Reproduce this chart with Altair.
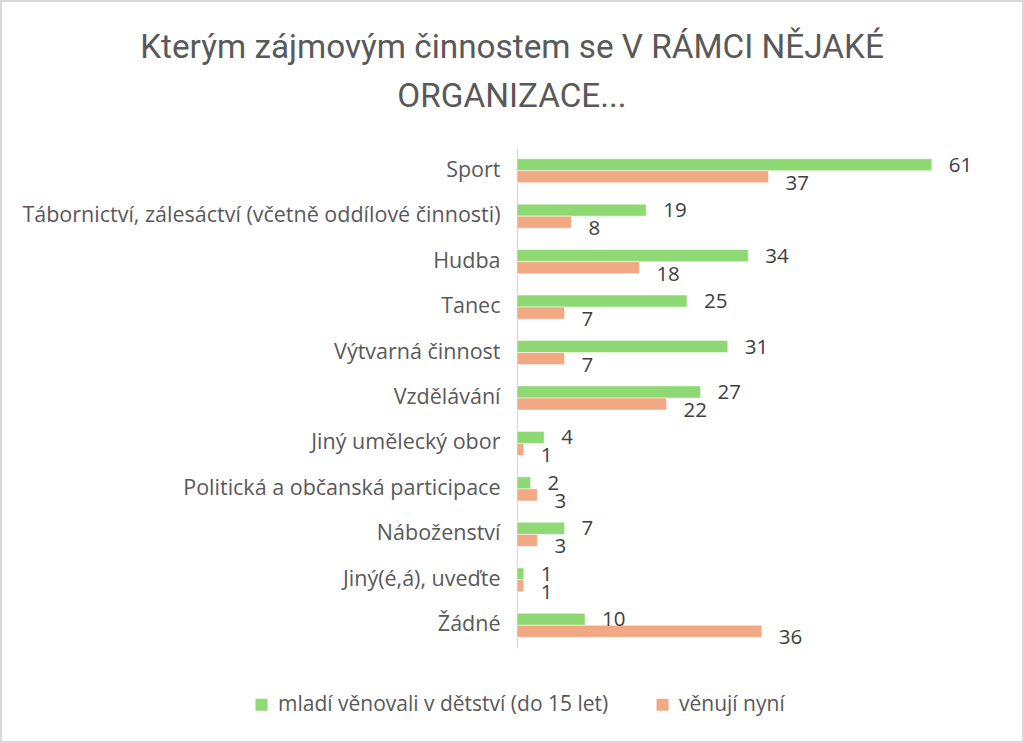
import altair as alt
import pandas as pd

categories = [
    "Sport",
    "Tábornictví, zálesáctví (včetně oddílové činnosti)",
    "Hudba",
    "Tanec",
    "Výtvarná činnost",
    "Vzdělávání",
    "Jiný umělecký obor",
    "Politická a občanská participace",
    "Náboženství",
    "Jiný(é,á), uveďte",
    "Žádné",
]
series_names = ["mladí věnovali  v dětství (do 15 let)", "věnují nyní"]
childhood = [61, 19, 34, 25, 31, 27, 4, 2, 7, 1, 10]
now = [37, 8, 18, 7, 7, 22, 1, 3, 3, 1, 36]
colors = ["#8ED973", "#F1A983"]
title_lines = ["Kterým zájmovým činnostem se V RÁMCI NĚJAKÉ", "ORGANIZACE..."]

rows = []
for c, a, b in zip(categories, childhood, now):
    rows.append({"cat": c, "series": series_names[0], "value": a})
    rows.append({"cat": c, "series": series_names[1], "value": b})
df = pd.DataFrame(rows)

FONT = "Open Sans"
W, H = 476, 500

y_enc = alt.Y("cat:N", sort=categories, title=None,
              scale=alt.Scale(paddingInner=0.47, paddingOuter=0.235),
              axis=alt.Axis(ticks=False, domainColor="#d9d9d9", domainWidth=1.3,
                            labelPadding=17, labelLimit=0, labelFontSize=21.5,
                            labelColor="#595959", labelFont=FONT, grid=False))
x_enc = alt.X("value:Q", scale=alt.Scale(domain=[0, 70]), axis=None, title=None)
yoff = alt.YOffset("series:N", sort=series_names)

bars = alt.Chart(df).mark_bar(stroke="white", strokeWidth=0.5).encode(
    y=y_enc, x=x_enc, yOffset=yoff,
    color=alt.Color("series:N", sort=series_names,
                    scale=alt.Scale(domain=series_names, range=colors),
                    legend=alt.Legend(title=None, orient="none", direction="horizontal",
                                      legendX=-266, legendY=546, symbolType="square",
                                      symbolSize=144, symbolStrokeWidth=0,
                                      labelFontSize=21, labelFont=FONT, labelColor="#595959",
                                      columnPadding=38, labelLimit=0, labelOffset=6,
                                      symbolOffset=0)),
)

lab_green = alt.Chart(df).transform_filter(
    alt.datum.series == series_names[0]
).mark_text(align="left", baseline="middle", dx=17, dy=1, fontSize=20.5,
            font=FONT, color="#404040").encode(
    y=alt.Y("cat:N", sort=categories), x="value:Q", yOffset=yoff, text="value:Q")

lab_sal = alt.Chart(df).transform_filter(
    alt.datum.series == series_names[1]
).mark_text(align="left", baseline="middle", dx=17, dy=7, fontSize=20.5,
            font=FONT, color="#404040").encode(
    y=alt.Y("cat:N", sort=categories), x="value:Q", yOffset=yoff, text="value:Q")

one = pd.DataFrame({"a": [0]})
frame = alt.Chart(one).mark_rect(
    fill=None, stroke="#d9d9d9", strokeWidth=2
).encode(x=alt.value(-516), x2=alt.value(W + 30), y=alt.value(-147), y2=alt.value(H + 94))

t1 = alt.Chart(pd.DataFrame({"t": [title_lines[0]]})).mark_text(
    align="center", baseline="middle", fontSize=33.3, font="Roboto",
    color="#595959").encode(text="t:N", x=alt.value(-5), y=alt.value(-100))
t2 = alt.Chart(pd.DataFrame({"t": [title_lines[1]]})).mark_text(
    align="center", baseline="middle", fontSize=33.3, font="Roboto",
    color="#595959").encode(text="t:N", x=alt.value(-5), y=alt.value(-51))

chart = alt.layer(frame, t1, t2, bars, lab_green, lab_sal).properties(
    width=W, height=H,
    autosize=alt.AutoSizeParams(type="none"),
    padding={"left": 517, "top": 148, "right": 31, "bottom": 95},
).configure(background="white").configure_view(strokeWidth=0, stroke="transparent")

chart.save("out.html", embed_options={"renderer": "svg", "actions": False})
